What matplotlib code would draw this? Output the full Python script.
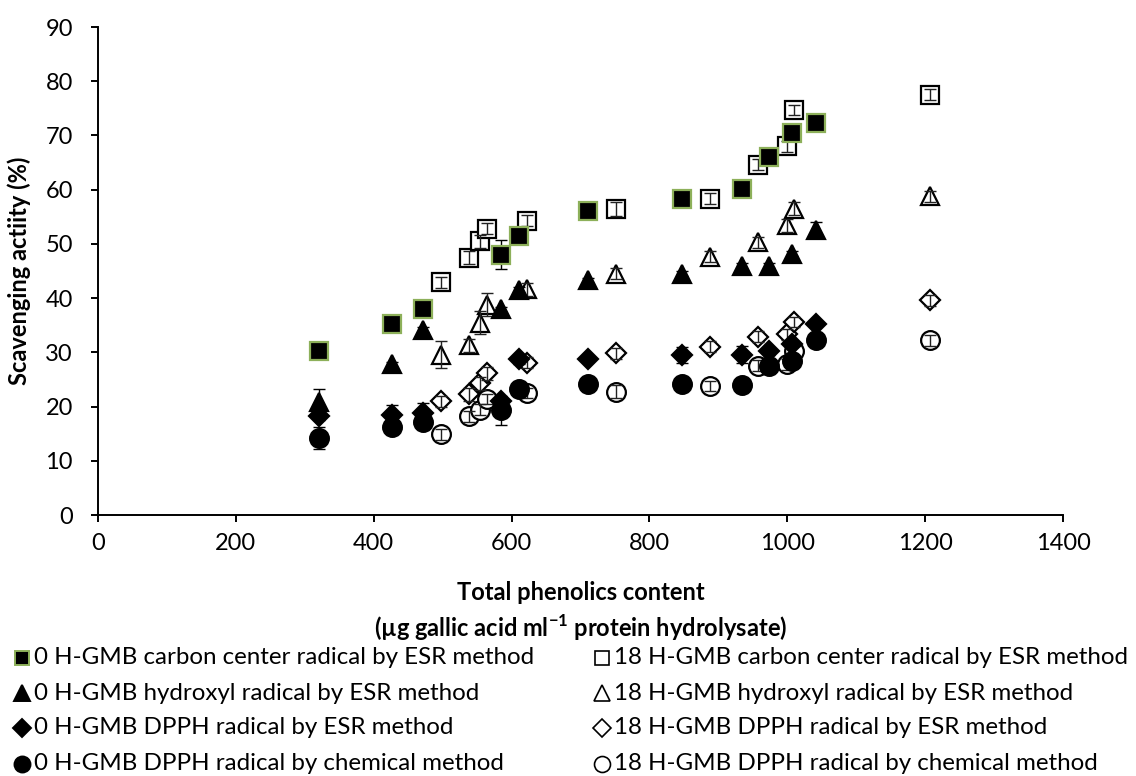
import matplotlib
matplotlib.use("Agg")
import matplotlib.pyplot as plt
from matplotlib.lines import Line2D

plt.rcParams['font.family'] = ['Lato', 'DejaVu Sans']
plt.rcParams['mathtext.fontset'] = 'custom'
plt.rcParams['mathtext.rm'] = 'Lato:bold'
plt.rcParams['mathtext.bf'] = 'Lato:bold'

# Total phenolics content (x) for the two hydrolysis times
x_0h = [321, 426, 472, 585, 611, 711, 847, 934, 973, 1007, 1042]
x_18h = [497, 538, 554, 564, 622, 752, 888, 958, 999, 1010, 1207]

# Scavenging activity (%) and standard deviations
carbon_0h = [30.2, 35.3, 38.0, 48.0, 51.5, 56.0, 58.3, 60.1, 66.0, 70.4, 72.3]
carbon_0h_err = [0.8, 0.6, 0.6, 2.7, 0.8, 0.6, 0.6, 0.6, 0.8, 0.8, 0.6]
carbon_18h = [42.9, 47.4, 50.5, 52.8, 54.3, 56.5, 58.3, 64.6, 68.0, 74.7, 77.5]
carbon_18h_err = [1.0, 1.2, 1.2, 1.0, 1.0, 1.3, 1.0, 1.0, 1.0, 1.0, 1.0]

hydroxyl_0h = [20.8, 27.8, 34.2, 37.9, 41.5, 43.3, 44.5, 45.9, 46.0, 48.2, 52.6]
hydroxyl_0h_err = [2.4, 0.5, 0.5, 0.5, 0.6, 0.5, 0.5, 0.5, 0.5, 0.5, 1.4]
hydroxyl_18h = [29.6, 31.3, 35.5, 38.8, 41.6, 44.5, 47.6, 50.3, 53.4, 56.5, 58.8]
hydroxyl_18h_err = [2.4, 1.2, 2.1, 2.1, 1.2, 1.0, 1.0, 1.0, 1.2, 1.2, 1.0]

dpph_esr_0h = [18.3, 18.5, 18.8, 21.0, 28.7, 28.7, 29.5, 29.6, 30.2, 31.5, 35.3]
dpph_esr_0h_err = [0.8, 1.8, 1.8, 0.6, 0.8, 0.5, 1.5, 1.6, 0.6, 0.6, 0.5]
dpph_esr_18h = [21.0, 22.3, 24.3, 26.1, 28.1, 29.8, 31.0, 32.9, 33.3, 35.6, 39.6]
dpph_esr_18h_err = [1.0, 1.2, 1.2, 1.2, 1.0, 1.0, 1.0, 1.0, 1.0, 1.0, 1.0]

dpph_chem_0h = [14.2, 16.3, 17.2, 19.3, 23.2, 24.1, 24.1, 23.9, 27.5, 28.4, 32.3]
dpph_chem_0h_err = [2.0, 1.0, 1.0, 2.7, 0.6, 0.5, 0.5, 0.5, 0.5, 0.5, 0.5]
dpph_chem_18h = [14.9, 18.2, 19.4, 21.4, 22.5, 22.7, 23.8, 27.5, 27.8, 30.2, 32.2]
dpph_chem_18h_err = [1.0, 1.0, 1.0, 1.0, 1.0, 1.2, 1.0, 1.0, 1.0, 1.0, 1.0]

labels_0h = ['0 H-GMB carbon center radical by ESR method',
             '0 H-GMB hydroxyl radical by ESR method',
             '0 H-GMB DPPH radical by ESR method',
             '0 H-GMB DPPH radical by chemical method']
labels_18h = ['18 H-GMB carbon center radical by ESR method',
              '18 H-GMB hydroxyl radical by ESR method',
              '18 H-GMB DPPH radical by ESR method',
              '18 H-GMB DPPH radical by chemical method']

x_ticks = [0, 200, 400, 600, 800, 1000, 1200, 1400]
y_ticks = [0, 10, 20, 30, 40, 50, 60, 70, 80, 90]

GREEN = '#8DB05A'
markers = ['s', '^', 'D', 'o']
sizes = [12.5, 13.5, 10.5, 13.5]
legend_sizes = [10.5, 12.0, 8.8, 11.5]
edge_0h = [GREEN, 'black', 'black', 'black']

W, H = 1136, 776
fig = plt.figure(figsize=(W / 100, H / 100), dpi=100)
ax = fig.add_axes([98 / W, 1 - 515 / H, (1063 - 98) / W, (515 - 27) / H])

series_18h = [(carbon_18h, carbon_18h_err), (hydroxyl_18h, hydroxyl_18h_err),
              (dpph_esr_18h, dpph_esr_18h_err), (dpph_chem_18h, dpph_chem_18h_err)]
series_0h = [(carbon_0h, carbon_0h_err), (hydroxyl_0h, hydroxyl_0h_err),
             (dpph_esr_0h, dpph_esr_0h_err), (dpph_chem_0h, dpph_chem_0h_err)]

# open markers (18 h) first, filled (0 h) drawn over them
for (vals, errs), m, ms in zip(series_18h, markers, sizes):
    ax.plot(x_18h, vals, linestyle='none', marker=m, ms=ms, mfc='white',
            mec='black', mew=1.6, zorder=3)
    ax.errorbar(x_18h, vals, yerr=errs, fmt='none', ecolor='#222222',
                elinewidth=1.0, capsize=4, capthick=1.0, zorder=4)

for (vals, errs), m, ms, ec in zip(series_0h, markers, sizes, edge_0h):
    ax.errorbar(x_0h, vals, yerr=errs, fmt='none', ecolor='black',
                elinewidth=1.0, capsize=4, capthick=1.0, zorder=5)
    ax.plot(x_0h, vals, linestyle='none', marker=m, ms=ms, mfc='black',
            mec=ec, mew=1.6, zorder=6)

ax.set_xlim(0, 1400)
ax.set_ylim(0, 90)
ax.set_xticks(x_ticks)
ax.set_yticks(y_ticks)
ax.spines['top'].set_visible(False)
ax.spines['right'].set_visible(False)
for s in ('left', 'bottom'):
    ax.spines[s].set_linewidth(1.4)
ax.tick_params(axis='both', direction='out', length=5, width=1.4,
               labelsize=17, colors='black')
ax.tick_params(axis='y', pad=13)
ax.tick_params(axis='x', pad=8)

ax.set_ylabel('Scavenging actiity (%)', fontsize=17, fontweight='bold',
              labelpad=10)

cx = (98 + 1063) / 2 / W
fig.text(cx, 1 - 593 / H, 'Total phenolics content', ha='center',
         va='center', fontsize=17, fontweight='bold')
fig.text(cx, 1 - 628 / H,
         r'(µg gallic acid ml$^{\mathrm{-1}}$ protein hydrolysate)',
         ha='center', va='center', fontsize=17, fontweight='bold')

# legend in two columns
row_y = [658, 693, 728, 764]
for i in range(4):
    fy = 1 - row_y[i] / H
    # left column: 0 h series
    fig.add_artist(Line2D([21.5 / W], [fy], transform=fig.transFigure,
                          marker=markers[i], ms=legend_sizes[i],
                          mfc='black', mec=edge_0h[i], mew=1.4,
                          linestyle='none'))
    fig.text(34 / W, fy, labels_0h[i], ha='left', va='center',
             fontsize=17.4)
    # right column: 18 h series
    fig.add_artist(Line2D([602 / W], [fy], transform=fig.transFigure,
                          marker=markers[i], ms=legend_sizes[i],
                          mfc='white', mec='black', mew=1.2,
                          linestyle='none'))
    fig.text(614 / W, fy, labels_18h[i], ha='left', va='center',
             fontsize=17.4)

fig.savefig('out.png', dpi=100)
